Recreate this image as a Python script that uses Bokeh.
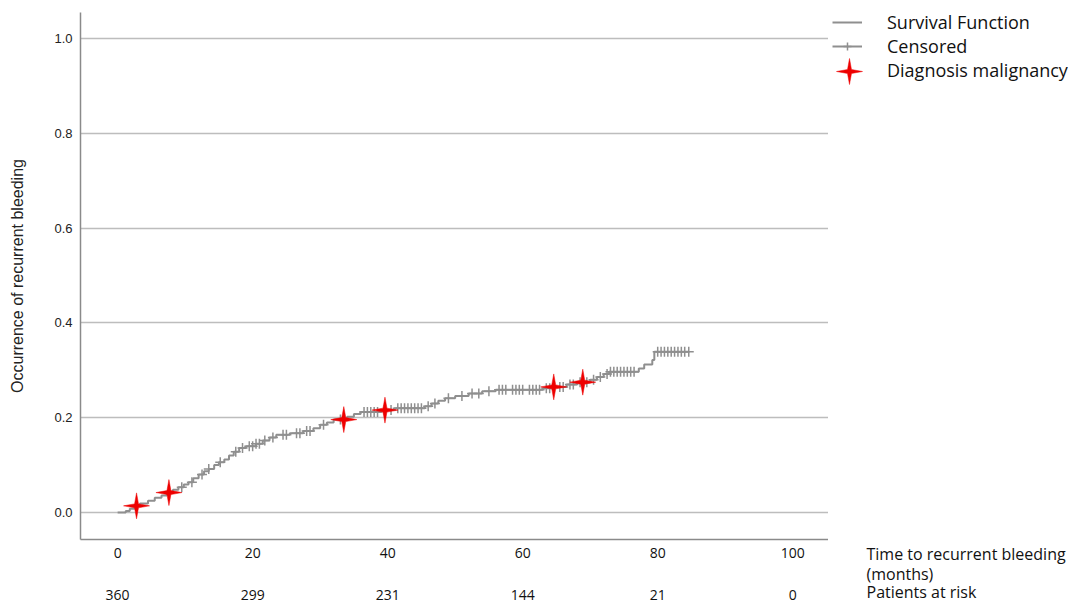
import numpy as np
from bokeh.plotting import figure
from bokeh.layouts import row
from bokeh.models import (Range1d, LinearAxis, FixedTicker, Legend, LegendItem,
                          Label, CustomJSTickFormatter)
from bokeh.embed import file_html
from bokeh.resources import INLINE

# ---------------- data ----------------
event_time = [0, 1.2, 1.8, 2.5, 3.3, 4.5, 5.5, 6.5, 7.3, 8.2, 9.0, 9.8, 10.5, 11.2, 12.0,
              12.8, 13.5, 14.3, 15.0, 15.8, 16.5, 17.2, 18.0, 19.0, 20.5, 21.5, 22.5,
              23.5, 25.5, 27.5, 29.0, 30.0, 31.0, 32.0, 34.0, 35.0, 36.0, 39.0, 41.0,
              45.5, 46.5, 47.5, 48.5, 50.0, 52.0, 54.0, 56.0, 63.0, 64.5, 66.5, 68.0,
              70.0, 71.0, 72.0, 72.8, 77.2, 78.0, 79.2, 79.5, 84.6]
event_inc = [0, 0.003, 0.008, 0.014, 0.019, 0.025, 0.031, 0.036, 0.042, 0.048, 0.053,
             0.059, 0.064, 0.072, 0.080, 0.087, 0.092, 0.100, 0.106, 0.112, 0.120,
             0.128, 0.136, 0.140, 0.145, 0.152, 0.158, 0.164, 0.167, 0.172, 0.178,
             0.185, 0.190, 0.196, 0.202, 0.208, 0.212, 0.216, 0.220, 0.224, 0.230,
             0.236, 0.241, 0.246, 0.251, 0.256, 0.259, 0.262, 0.265, 0.270, 0.275,
             0.280, 0.286, 0.292, 0.297, 0.304, 0.312, 0.322, 0.339, 0.339]

censor_time = [9.5, 11, 12.5, 13.5, 15.2, 17.5, 18.5, 19.5, 20, 20.5, 21, 21.8, 23,
               24.5, 25, 26.5, 27, 28, 28.5, 30.5, 33, 36.5, 37, 37.5, 38, 38.5, 39.5,
               40.5, 41.5, 42, 42.5, 43, 43.5, 44, 44.5, 45, 46, 47, 49, 51, 52.5,
               53.5, 55, 56.5, 57, 57.5, 58.5, 59, 59.5, 60, 61, 61.5, 62, 62.5, 63.5,
               64, 65.5, 66, 67, 67.5, 68.5, 69.5, 70.5, 71.5, 72.5, 73, 73.5, 74,
               74.5, 75, 75.5, 76, 76.5, 80, 80.5, 81, 81.5, 82, 82.5, 83, 83.5, 84,
               84.6]

malignancy_time = [2.8, 7.6, 33.5, 39.6, 64.6, 68.9]

x_ticks = [0, 20, 40, 60, 80, 100]
at_risk = [360, 299, 231, 144, 21, 0]
y_ticks = [0.0, 0.2, 0.4, 0.6, 0.8, 1.0]

legend_labels = ["Survival Function", "Censored", "Diagnosis malignancy"]
side_titles = ["Time to recurrent bleeding", "(months)", "Patients at risk"]


def curve_at(t):
    idx = np.searchsorted(np.array(event_time), np.array(t), side="right") - 1
    return list(np.array(event_inc)[idx])


censor_y = curve_at(censor_time)
malignancy_y = curve_at(malignancy_time)

# ---------------- styling constants ----------------
GRAY = "#8f8f8f"
RED = "#ee0000"
TXT = "#111111"
X0, X1 = -5.5, 105.3
Y0, Y1 = -0.057, 1.055
FW, FH = 748, 528
STAR_R, STAR_r = 13, 2.8


def star_shape(cx, cy, kx, ky):
    xs, ys = [], []
    for k in range(8):
        a = np.pi / 4 * k
        rad = STAR_R if k % 2 == 0 else STAR_r
        xs.append(cx + rad * np.cos(a) / kx)
        ys.append(cy + rad * np.sin(a) / ky)
    return xs, ys


def plain_axis(ax, standoff, size):
    ax.axis_line_color = None
    ax.major_tick_line_color = None
    ax.minor_tick_line_color = None
    ax.major_tick_out = 0
    ax.major_tick_in = 0
    ax.major_label_standoff = standoff
    ax.major_label_text_font = "Open Sans"
    ax.major_label_text_font_size = size
    ax.major_label_text_color = TXT


# ---------------- main figure ----------------
p = figure(width=828, height=602, output_backend="svg", toolbar_location=None,
           x_range=Range1d(X0, X1), y_range=Range1d(Y0, Y1),
           min_border_left=80, min_border_right=0, min_border_top=12,
           min_border_bottom=62)
p.frame_align = False
p.outline_line_color = None
p.xgrid.grid_line_color = None
p.ygrid.ticker = FixedTicker(ticks=y_ticks)
p.ygrid.grid_line_color = "#bdbdbd"
p.ygrid.grid_line_width = 1.5

p.yaxis.ticker = FixedTicker(ticks=y_ticks)
p.yaxis.formatter = CustomJSTickFormatter(code="return tick.toFixed(1);")
p.yaxis.axis_line_color = "#8a8a8a"
p.yaxis.axis_line_width = 1.5
p.yaxis.major_tick_line_color = None
p.yaxis.major_tick_out = 0
p.yaxis.major_tick_in = 0
p.yaxis.minor_tick_line_color = None
p.yaxis.major_label_standoff = 8
p.yaxis.major_label_text_font = "Liberation Sans"
p.yaxis.major_label_text_font_size = "13px"
p.yaxis.major_label_text_color = "#222222"
p.yaxis.axis_label = "Occurrence of recurrent bleeding"
p.yaxis.axis_label_text_font = "Liberation Sans"
p.yaxis.axis_label_text_font_size = "16px"
p.yaxis.axis_label_text_font_style = "normal"
p.yaxis.axis_label_text_color = "#222222"
p.yaxis.axis_label_standoff = 25

p.xaxis.ticker = FixedTicker(ticks=x_ticks)
plain_axis(p.xaxis[0], 8, "14px")
p.xaxis.axis_line_color = "#8a8a8a"
p.xaxis.axis_line_width = 1.5

risk_axis = LinearAxis(ticker=FixedTicker(ticks=x_ticks),
                       major_label_overrides={t: str(n) for t, n in zip(x_ticks, at_risk)})
plain_axis(risk_axis, 29, "14px")
p.add_layout(risk_axis, "below")

p.step(event_time, event_inc, mode="after", line_color=GRAY, line_width=2)
p.scatter(censor_time, censor_y, marker="cross", size=10, line_color=GRAY, line_width=1.5)

kx = FW / (X1 - X0)
ky = FH / (Y1 - Y0)
star_xs, star_ys = [], []
for t, v in zip(malignancy_time, malignancy_y):
    sx, sy = star_shape(t, v, kx, ky)
    star_xs.append(sx)
    star_ys.append(sy)
p.patches(star_xs, star_ys, fill_color=RED, line_color=RED, line_width=0.5)

# ---------------- side panel: legend + axis titles (page-pixel coordinates) ----------------
q = figure(width=240, height=602, output_backend="svg", toolbar_location=None,
           x_range=Range1d(832, 1068), y_range=Range1d(602, 10),
           min_border_left=4, min_border_right=0, min_border_top=10,
           min_border_bottom=0, x_axis_location=None, y_axis_location=None)
q.frame_align = False
q.outline_line_color = None
q.grid.visible = False

nan = float("nan")
l_step = q.step([nan], [nan], line_color=GRAY, line_width=2)
l_cross = q.scatter([nan], [nan], marker="cross", size=10, line_color=GRAY, line_width=1.5)
l_none = q.text([nan], [nan], text=[""])
legend = Legend(items=[
    LegendItem(label=legend_labels[0], renderers=[l_step]),
    LegendItem(label=legend_labels[1], renderers=[l_step, l_cross]),
    LegendItem(label=legend_labels[2], renderers=[l_none]),
], location="top_left", margin=0, padding=0, spacing=0, glyph_width=30,
   glyph_height=20, label_height=20, label_standoff=25,
   label_text_font="Open Sans", label_text_font_size="18px",
   label_text_color=TXT, background_fill_alpha=0, border_line_color=None)
q.add_layout(legend)

lx, ly = star_shape(849, 71, 1, 1)
q.patches([lx], [ly], fill_color=RED, line_color=RED, line_width=0.5)

lab_kw = dict(text_font="Open Sans", text_font_size="16px", text_color=TXT,
              text_align="left", text_baseline="middle")
for txt, yy in zip(side_titles, [553, 573, 591]):
    q.add_layout(Label(x=866, y=yy, text=txt, **lab_kw))

open("out.html", "w").write(file_html(row(p, q), INLINE))
